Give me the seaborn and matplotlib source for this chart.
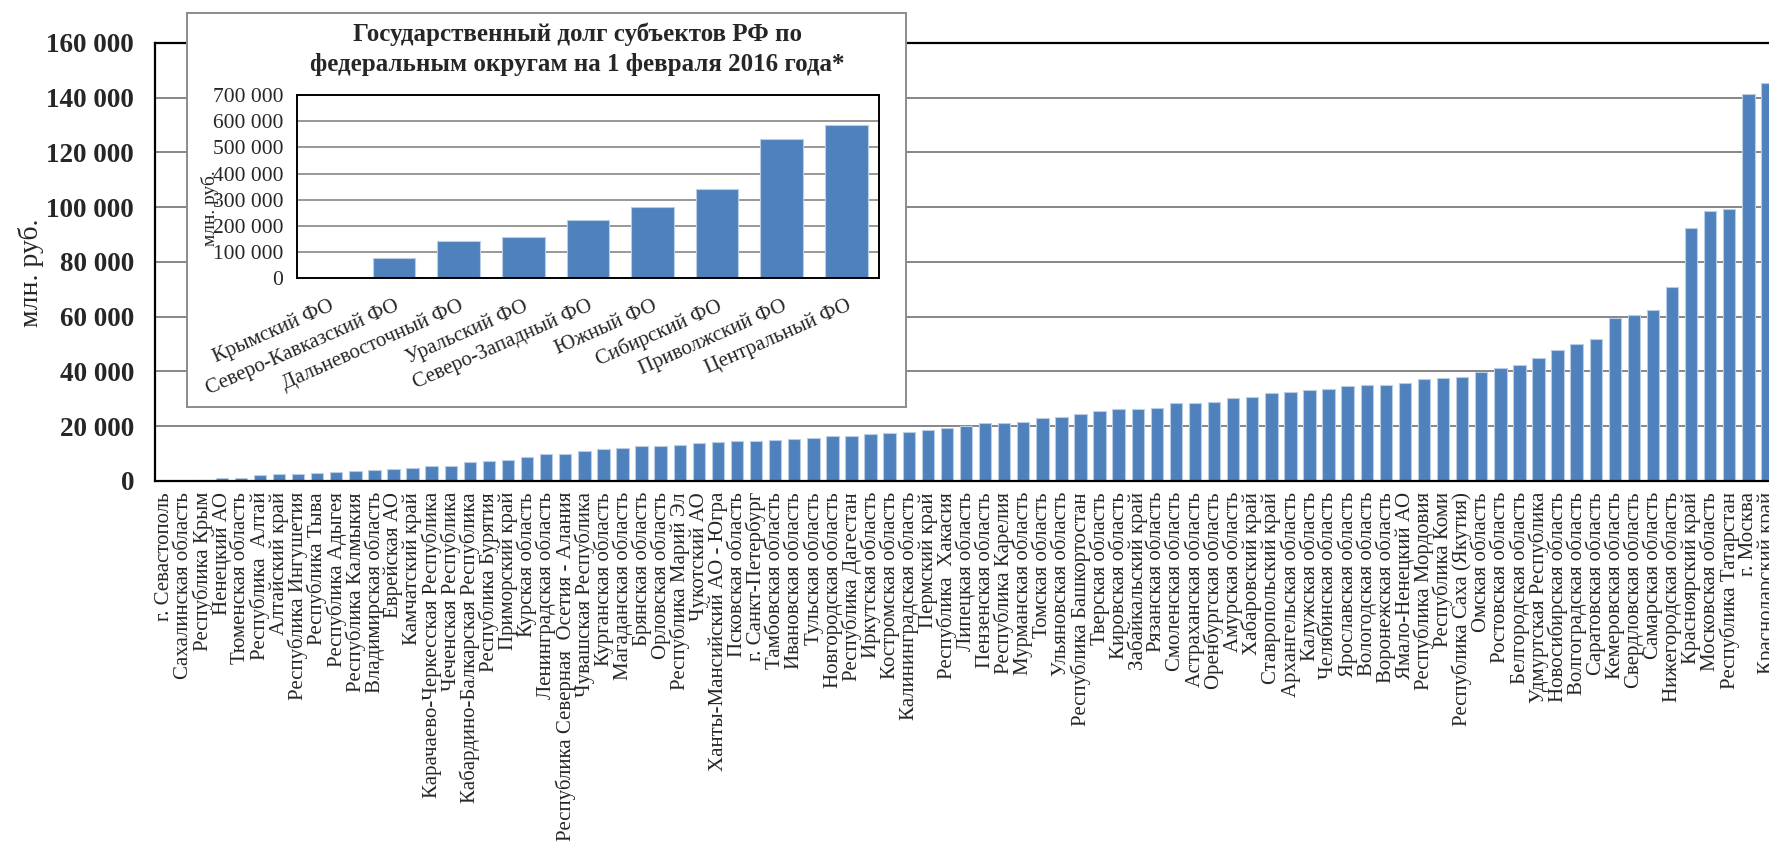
import numpy as np
import matplotlib
matplotlib.use("Agg")
import matplotlib.pyplot as plt
import seaborn as sns
from matplotlib.ticker import FuncFormatter

# regional debt, mln rub, on 1 Feb 2016
regions = [
    "г. Севастополь", "Сахалинская область", "Республика Крым", "Ненецкий АО",
    "Тюменская область", "Республика  Алтай", "Алтайский край", "Республика Ингушетия",
    "Республика Тыва", "Республика Адыгея", "Республика Калмыкия", "Владимирская область",
    "Еврейская АО", "Камчатский край", "Карачаево-Черкесская Республика",
    "Чеченская Республика", "Кабардино-Балкарская Республика", "Республика Бурятия",
    "Приморский край", "Курская область", "Ленинградская область",
    "Республика Северная  Осетия - Алания", "Чувашская Республика", "Курганская область",
    "Магаданская область", "Брянская область", "Орловская область", "Республика Марий Эл",
    "Чукотский АО", "Ханты-Мансийский АО - Югра", "Псковская область",
    "г. Санкт-Петербург", "Тамбовская область", "Ивановская область", "Тульская область",
    "Новгородская область", "Республика Дагестан", "Иркутская область",
    "Костромская область", "Калининградская область", "Пермский край",
    "Республика  Хакасия", "Липецкая область", "Пензенская область",
    "Республика Карелия", "Мурманская область", "Томская область",
    "Ульяновская область", "Республика Башкортостан", "Тверская область",
    "Кировская область", "Забайкальский край", "Рязанская область",
    "Смоленская область", "Астраханская область", "Оренбургская область",
    "Амурская область", "Хабаровский край", "Ставропольский край",
    "Архангельская область", "Калужская область", "Челябинская область",
    "Ярославская область", "Вологодская область", "Воронежская область",
    "Ямало-Ненецкий АО", "Республика Мордовия", "Республика Коми",
    "Республика Саха (Якутия)", "Омская область", "Ростовская область",
    "Белгородская область", "Удмуртская Республика", "Новосибирская область",
    "Волгоградская область", "Саратовская область", "Кемеровская область",
    "Свердловская область", "Самарская область", "Нижегородская область",
    "Красноярский край", "Московская область", "Республика Татарстан",
    "г. Москва", "Краснодарский край",
]
debt = [
    0, 0, 200, 1000, 1200, 2100, 2600, 2700, 3100, 3300, 3500, 3900, 4400, 4600,
    5400, 5600, 6900, 7200, 7800, 8600, 9700, 10000, 10900, 11800, 12100, 12850,
    12900, 13100, 13900, 14400, 14450, 14600, 14900, 15200, 15800, 16400, 16450,
    17000, 17500, 17800, 18500, 19400, 20000, 21200, 21250, 21600, 23100, 23500,
    24600, 25600, 26200, 26400, 26800, 28400, 28450, 28900, 30300, 30700, 32000,
    32500, 33200, 33500, 34600, 35100, 35150, 35700, 37100, 37600, 38000, 39700,
    41300, 42200, 45100, 48000, 50200, 51800, 59700, 60600, 62500, 70700, 92600,
    98700, 99500, 141400, 145300,
]

districts = ["Крымский ФО", "Северо-Кавказский ФО", "Дальневосточный ФО", "Уральский ФО",
             "Северо-Западный ФО", "Южный ФО", "Сибирский ФО", "Приволжский ФО",
             "Центральный ФО"]
district_debt = [300, 76000, 141000, 156000, 221000, 271000, 340000, 532000, 585000]

inset_title = ["Государственный долг субъектов РФ по",
               "федеральным округам на 1 февраля 2016 года*"]

BLUE = "#4F81BD"
GRID = "#868686"

sns.set_style("white")
plt.rcParams['font.family'] = ['Liberation Serif', 'DejaVu Serif']

W, H = 1769, 851
fig = plt.figure(figsize=(W / 100, H / 100), dpi=100)


def fmt(v, pos):
    return f"{v:,.0f}".replace(",", " ")


# main chart, runs past the right edge like the cropped original
ax = fig.add_axes([155 / W, 1 - 481 / H, (1777 - 155) / W, (481 - 43) / H])
sns.barplot(x=regions, y=debt, color=BLUE, saturation=1, width=0.65,
            edgecolor="#B9CDE5", linewidth=0.8, ax=ax)
ax.set_xlim(-0.5, len(regions) - 0.5)
ax.set_ylim(0, 160000)
ax.set_yticks(np.arange(0, 160001, 20000))
ax.yaxis.set_major_formatter(FuncFormatter(fmt))
for lab in ax.get_yticklabels():
    lab.set_fontweight("bold")
    lab.set_fontsize(19.5)
ax.set_xticks(range(len(regions)))
ax.set_xticklabels(regions, rotation=90, fontsize=15, va="top", ha="center")
ax.set_xticks(np.arange(-0.5, len(regions)), minor=True)
ax.tick_params(axis="x", which="major", length=0, pad=8)
ax.tick_params(axis="x", which="minor", length=4, width=1.3, direction="out", color="black")
ax.tick_params(axis="y", which="major", length=6, width=1.3, direction="out", pad=9, color="black")
ax.set_axisbelow(True)
ax.yaxis.grid(True, color=GRID, lw=1.4)
ax.xaxis.grid(False)
for s in ["left", "bottom", "top"]:
    ax.spines[s].set_color("black")
    ax.spines[s].set_linewidth(1.6)
ax.spines["right"].set_visible(False)
ax.set_xlabel("")
ax.set_ylabel("млн. руб.", fontsize=20)
ax.yaxis.set_label_coords(-0.0765, 0.475)
ax.yaxis.label.set_va("center")

# inset frame
box = fig.add_axes([187 / W, 1 - 407 / H, (906 - 187) / W, (407 - 13) / H])
box.set_zorder(2)
box.set_facecolor("white")
box.set_xticks([])
box.set_yticks([])
for s in box.spines.values():
    s.set_color("#8C8C8C")
    s.set_linewidth(1.4)

fig.text(577 / W, 1 - 34 / H, inset_title[0], ha="center", va="center",
         fontsize=18, fontweight="bold", zorder=5)
fig.text(577 / W, 1 - 64 / H, inset_title[1], ha="center", va="center",
         fontsize=18, fontweight="bold", zorder=5)

# inset chart by federal district
ins = fig.add_axes([297 / W, 1 - 278.3 / H, (878.7 - 297) / W, (278.3 - 95) / H])
ins.set_zorder(3)
sns.barplot(x=districts, y=district_debt, color=BLUE, saturation=1, width=0.66,
            edgecolor="#B9CDE5", linewidth=0.8, ax=ins)
ins.set_xlim(-0.5, len(districts) - 0.5)
ins.set_ylim(0, 700000)
ins.set_yticks(np.arange(0, 700001, 100000))
ins.yaxis.set_major_formatter(FuncFormatter(fmt))
ins.tick_params(axis="y", labelsize=15.5, length=5, width=1.2, pad=5, color="black")
ins.set_xticks(range(len(districts)))
ins.set_xticklabels(districts, rotation=24, ha="right", va="top",
                    rotation_mode="anchor", fontsize=15)
ins.set_xticks(np.arange(-0.5, len(districts)), minor=True)
ins.tick_params(axis="x", which="major", length=0, pad=13)
ins.tick_params(axis="x", which="minor", length=4, width=1.2, direction="out", color="black")
ins.set_axisbelow(True)
ins.yaxis.grid(True, color=GRID, lw=1.2)
ins.xaxis.grid(False)
for s in ins.spines.values():
    s.set_color("black")
    s.set_linewidth(1.4)
ins.set_xlabel("")
ins.set_ylabel("млн. руб.", fontsize=14)
ins.yaxis.set_label_coords(-0.15, 0.38)
ins.yaxis.label.set_va("center")

fig.savefig("out.png", dpi=100)
